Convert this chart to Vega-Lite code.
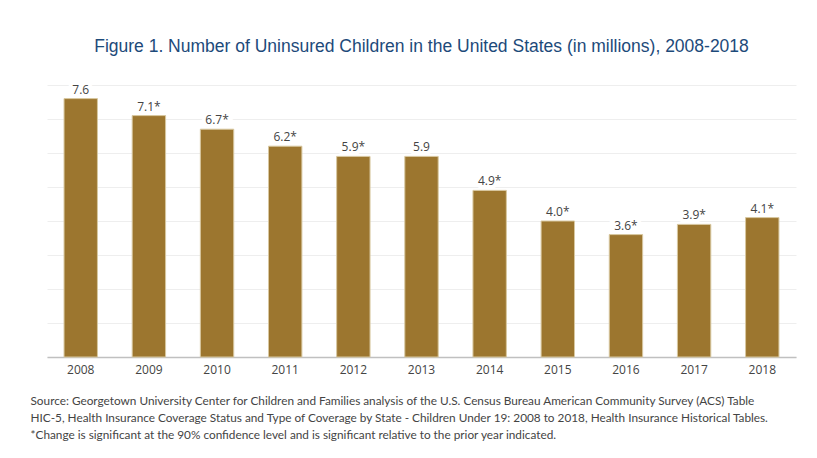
{
  "$schema": "https://vega.github.io/schema/vega-lite/v6.json",
  "width": 749,
  "height": 272,
  "autosize": {"type": "none"},
  "padding": {"left": 47, "top": 85, "right": 21, "bottom": 101},
  "background": "white",
  "title": {
    "text": "Figure 1. Number of Uninsured Children in the United States (in millions), 2008-2018",
    "font": "Liberation Sans",
    "fontSize": 17.5,
    "fontWeight": "normal",
    "color": "#1d4a7a",
    "anchor": "middle",
    "offset": 28
  },
  "data": {
    "values": [
      {"year": "2008", "value": 7.6, "label": "7.6"},
      {"year": "2009", "value": 7.1, "label": "7.1*"},
      {"year": "2010", "value": 6.7, "label": "6.7*"},
      {"year": "2011", "value": 6.2, "label": "6.2*"},
      {"year": "2012", "value": 5.9, "label": "5.9*"},
      {"year": "2013", "value": 5.9, "label": "5.9"},
      {"year": "2014", "value": 4.9, "label": "4.9*"},
      {"year": "2015", "value": 4.0, "label": "4.0*"},
      {"year": "2016", "value": 3.6, "label": "3.6*"},
      {"year": "2017", "value": 3.9, "label": "3.9*"},
      {"year": "2018", "value": 4.1, "label": "4.1*"}
    ]
  },
  "config": {
    "view": {"stroke": null}
  },
  "encoding": {
    "x": {
      "field": "year",
      "type": "ordinal",
      "scale": {"paddingInner": 0.51, "paddingOuter": 0.25},
      "axis": {
        "labelAngle": 0,
        "labelFont": "Open Sans",
        "labelFontSize": 12,
        "labelColor": "#444444",
        "labelPadding": 7,
        "ticks": false,
        "domainColor": "#c0c0c0",
        "domainWidth": 1.5,
        "title": [
          "Source: Georgetown University Center for Children and Families analysis of the U.S. Census Bureau American Community Survey (ACS) Table",
          "HIC-5, Health Insurance Coverage Status and Type of Coverage by State - Children Under 19: 2008 to 2018, Health Insurance Historical Tables.",
          "*Change is significant at the 90% confidence level and is significant relative to the prior year indicated."
        ],
        "titleFont": "Lato",
        "titleFontSize": 11.8,
        "titleFontWeight": "normal",
        "titleColor": "#444444",
        "titleAlign": "left",
        "titleAnchor": "start",
        "titleBaseline": "top",
        "titleX": -17,
        "titleY": 38,
        "titleLineHeight": 17
      }
    },
    "y": {
      "field": "value",
      "type": "quantitative",
      "scale": {"domain": [0, 8]},
      "axis": {
        "title": null,
        "labels": false,
        "ticks": false,
        "domain": false,
        "tickCount": 8,
        "gridColor": "#eeeeee",
        "gridWidth": 1
      }
    }
  },
  "layer": [
    {
      "mark": {"type": "bar", "color": "#9c762f", "stroke": "#d8c8a0", "strokeWidth": 1}
    },
    {
      "mark": {"type": "text", "dy": -9, "font": "Open Sans", "fontSize": 12, "color": "#ffffff", "stroke": "#ffffff", "strokeWidth": 8, "baseline": "middle"},
      "encoding": {"text": {"field": "label"}}
    },
    {
      "mark": {"type": "text", "dy": -9, "font": "Open Sans", "fontSize": 12, "color": "#444444", "baseline": "middle"},
      "encoding": {"text": {"field": "label"}}
    }
  ]
}
